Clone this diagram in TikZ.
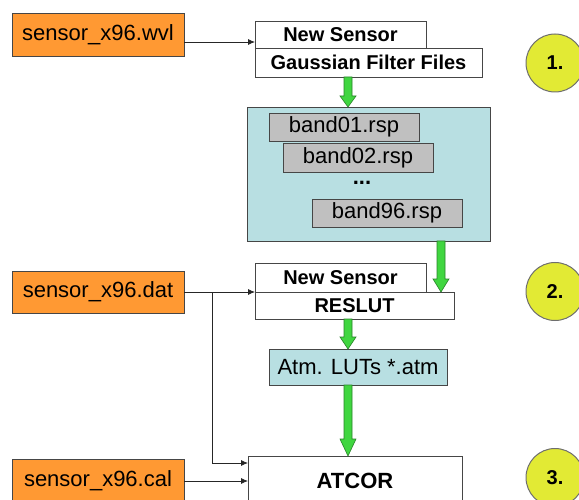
\documentclass[tikz,border=0pt]{standalone}
\usepackage{fontspec}
\setmainfont{Liberation Sans}
\usetikzlibrary{calc,arrows.meta}
\definecolor{orangebox}{RGB}{255,153,51}
\definecolor{cyanbox}{RGB}{184,223,226}
\definecolor{graybox}{RGB}{192,192,192}
\definecolor{edgegray}{RGB}{70,70,70}
\definecolor{grfill}{RGB}{64,214,64}
\definecolor{grdraw}{RGB}{40,130,40}
\definecolor{circfill}{RGB}{226,234,52}
\definecolor{circdraw}{RGB}{110,110,110}
\newcommand\grarrow[3]{%
  \path[grarrowstyle] let \p1=#1, \p2=#2 in
   (\x1-4pt,\y1) -- (\x1+4pt,\y1) -- (\x1+4pt,\y2+#3) -- (\x1+8pt,\y2+#3)
   -- (\x1,\y2) -- (\x1-8pt,\y2+#3) -- (\x1-4pt,\y2+#3) -- cycle;}
\begin{document}
\begin{tikzpicture}[x=1pt,y=-1pt,
  every node/.style={inner sep=0pt, outer sep=0pt},
  filebox/.style={draw=edgegray, line width=0.8pt, fill=orangebox,
    font=\fontsize{22}{26}\selectfont, minimum width=172pt},
  hdrbox/.style={draw=edgegray, line width=0.7pt, fill=white,
    font=\fontsize{20}{24}\selectfont\bfseries},
  bandbox/.style={draw=edgegray, line width=0.7pt, fill=graybox,
    font=\fontsize{22}{26}\selectfont, minimum width=150pt},
  numcirc/.style={circle, draw=circdraw, line width=1pt, fill=circfill,
    minimum size=58pt, font=\fontsize{20}{24}\selectfont\bfseries},
  conn/.style={draw=black!85, line width=0.8pt, -{Latex[length=7pt,width=6pt]}},
  grarrowstyle/.style={fill=grfill, draw=grdraw, line width=0.6pt}
]
\useasboundingbox (0,0) rectangle (579,500);

% step 1
\node[filebox, minimum height=43pt] (wvl) at (98,34.5) {sensor\_x96.wvl};
\node[hdrbox, minimum width=171pt, minimum height=27pt] (ns1) at (340.5,34.5) {New Sensor};
\node[hdrbox, minimum width=227pt, minimum height=29pt] (gff) at (368.5,62.5) {Gaussian Filter Files};
\node[numcirc] (c1) at (555,63) {1.};

\node[draw=edgegray, line width=0.8pt, fill=cyanbox, minimum width=243pt, minimum height=134pt] (cyan) at (368.5,174) {};
\node[bandbox, minimum height=28pt] (b01) at (344,127) {band01.rsp};
\node[bandbox, minimum height=29pt] (b02) at (358,157.5) {band02.rsp};
\node[font=\fontsize{22}{26}\selectfont\bfseries, anchor=base, text height=5pt, text depth=0pt] (dots) at (362,185) {...};
\node[bandbox, minimum height=28pt] (b96) at (387,213) {band96.rsp};

% step 2
\node[filebox, minimum height=42pt] (dat) at (98,292) {sensor\_x96.dat};
\node[hdrbox, minimum width=171pt, minimum height=29pt] (ns2) at (340.5,277.5) {New Sensor};
\node[hdrbox, minimum width=199pt, minimum height=27pt] (reslut) at (354.5,305.5) {RESLUT};
\node[numcirc] (c2) at (555,291.5) {2.};
\node[draw=edgegray, line width=0.8pt, fill=cyanbox, minimum width=178pt, minimum height=36pt,
  font=\fontsize{22}{26}\selectfont] (atm) at (358,367) {Atm. LUTs *.atm};

% step 3
\node[filebox, minimum height=44pt] (cal) at (98,481) {sensor\_x96.cal};
\node[draw=edgegray, line width=0.8pt, fill=white, minimum width=214pt, minimum height=50pt,
  font=\fontsize{22}{26}\selectfont\bfseries] (atcor) at (355,481) {ATCOR};
\node[numcirc] (c3) at (555,477.5) {3.};

% connectors
\draw[conn] ([yshift=-7.5pt]wvl.east) -- ([yshift=-7.5pt]ns1.west);
\draw[conn] (dat.east) -- (dat.east -| ns2.west);
\coordinate (br) at ($(dat.east)+(28,0)$);
\coordinate (brd) at (br |- 0,463);
\draw[conn] (br) -- (brd) -- (brd -| atcor.west);
\draw[conn] (cal.east) -- (atcor.west);

% green arrows
\grarrow{([xshift=-20.5pt]gff.south)}{(cyan.north)}{11pt}
\grarrow{([xshift=72.5pt]cyan.south)}{(reslut.north)}{13pt}
\grarrow{([xshift=-6.5pt]reslut.south)}{(atm.north)}{12pt}
\grarrow{([xshift=-10pt]atm.south)}{(atcor.north)}{17pt}
\end{tikzpicture}
\end{document}
